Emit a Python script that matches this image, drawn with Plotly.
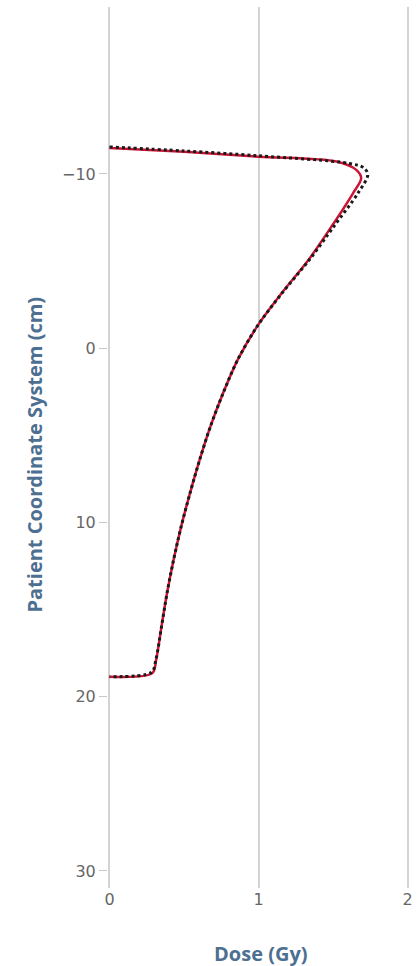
import plotly.graph_objects as go

# Depth-dose profile along the patient coordinate axis
calc_depth = [-11.49, -11.27, -10.99, -10.71, -10.23, -9.75, -8.89, -6.98, -5.06,
              -3.15, -1.24, 0.67, 2.59, 4.50, 6.41, 8.33, 10.24, 12.15, 14.06,
              15.98, 17.89, 18.65, 18.85]
calc_dose = [0.0, 0.5, 1.0, 1.523, 1.656, 1.689, 1.634, 1.49, 1.335,
             1.155, 0.99, 0.86, 0.762, 0.677, 0.605, 0.540, 0.481, 0.430, 0.386,
             0.349, 0.313, 0.287, 0.0]

meas_depth = [-11.55, -11.32, -11.04, -10.6, -10.33, -9.94, -8.89, -6.98, -5.06,
              -3.15, -1.24, 0.67, 2.59, 4.50, 6.41, 8.33, 10.24, 12.15, 14.06,
              15.98, 17.89, 18.6, 18.85]
meas_dose = [0.0, 0.5, 1.0, 1.61, 1.71, 1.733, 1.667, 1.505, 1.34,
             1.157, 0.99, 0.86, 0.762, 0.677, 0.605, 0.540, 0.481, 0.430, 0.386,
             0.349, 0.311, 0.282, 0.0]

x_ticks = [0, 1, 2]
y_ticks = [-10, 0, 10, 20, 30]

tick_font = dict(family="DejaVu Sans, sans-serif", size=16, color="#666666")
title_font = dict(family="Open Sans, sans-serif", size=20, color="#4d6f91")

fig = go.Figure()
fig.add_trace(go.Scatter(
    x=calc_dose, y=calc_depth, mode="lines",
    line=dict(color="#cc1435", width=2.5, shape="spline", smoothing=0.9),
    name="Calculated",
))
fig.add_trace(go.Scatter(
    x=meas_dose, y=meas_depth, mode="lines",
    line=dict(color="#1a1a1a", width=3, dash="dot", shape="spline", smoothing=0.9),
    name="Measured",
))

fig.update_layout(
    width=419, height=966,
    margin=dict(l=108, r=6, t=7, b=78),
    plot_bgcolor="white", paper_bgcolor="white",
    showlegend=False,
    xaxis=dict(
        range=[-0.01, 2.01], tickvals=x_ticks, showgrid=True,
        gridcolor="#d3d3d3", gridwidth=1.5, zeroline=False, showline=False,
        ticks="", tickfont=tick_font,
    ),
    yaxis=dict(
        range=[30.98, -19.58], tickvals=y_ticks, showgrid=False,
        zeroline=False, showline=False, ticks="outside", ticklen=8,
        tickcolor="#c8c8c8", tickfont=tick_font,
    ),
    annotations=[
        dict(text="<b>Dose (Gy)</b>", xref="paper", yref="paper",
             x=0.508, y=-0.0738, xanchor="center", yanchor="middle",
             showarrow=False, font=title_font),
        dict(text="<b>Patient Coordinate System (cm)</b>", xref="paper", yref="paper",
             x=-0.244, y=0.4915, xanchor="center", yanchor="middle", textangle=-90,
             showarrow=False, font=title_font),
    ],
)

fig.write_html("out.html")
